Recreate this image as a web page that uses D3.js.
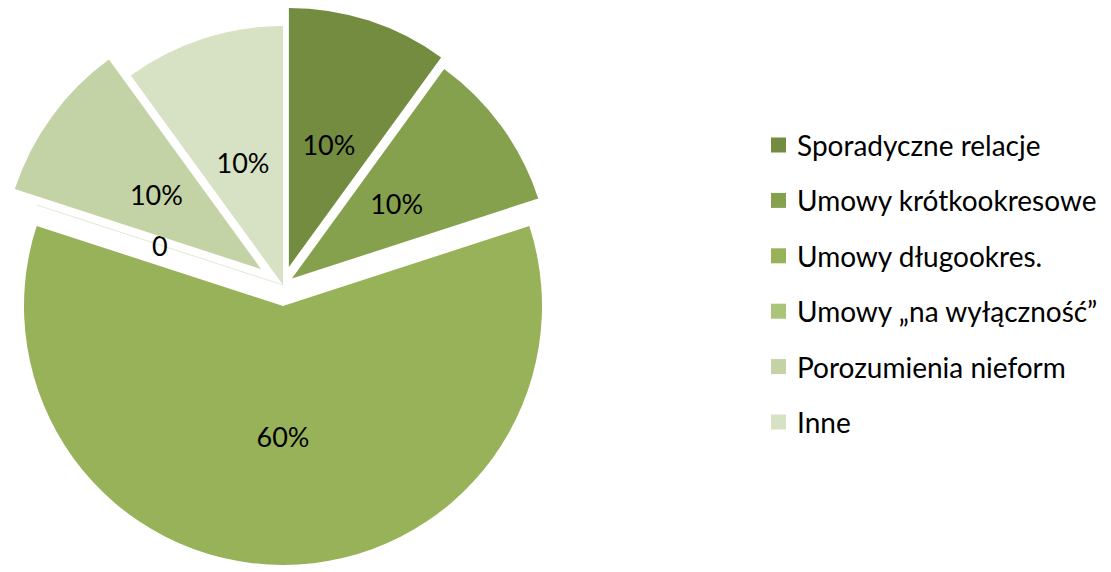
<!DOCTYPE html>
<html>
<head>
<meta charset="utf-8">
<script src="https://cdn.jsdelivr.net/npm/d3@7"></script>
<style>
  html, body { margin: 0; padding: 0; background: #ffffff; }
  svg { display: block; }
  text { font-family: Lato, "Open Sans", sans-serif; }
</style>
</head>
<body>
<svg id="chart" width="1111" height="572"></svg>
<script>
const categories = ["Sporadyczne relacje", "Umowy krótkookresowe", "Umowy długookres.", "Umowy \u201ena wyłączność\u201d", "Porozumienia nieform", "Inne"];
const values = [10, 10, 60, 0, 10, 10];
const valueLabels = ["10%", "10%", "60%", "0", "10%", "10%"];
const colors = ["#738c40", "#86a14e", "#97b258", "#aac478", "#c3d3a5", "#d7e1c4"];
const explode = [19, 11, 21, 0, 27, 0];

const W = 1111, H = 572;
const cx = 283, cy = 285, R = 259;
const svg = d3.select("#chart");

const data = categories.map((c, i) => ({ name: c, value: values[i], label: valueLabels[i], color: colors[i], ex: explode[i] }));
const pie = d3.pie().sort(null).value(d => d.value);
const arcs = pie(data);
const arc = d3.arc().innerRadius(0).outerRadius(R);
const labelArc = d3.arc().innerRadius(0).outerRadius(R);

const g = svg.append("g").attr("transform", `translate(${cx},${cy})`);

const slice = g.selectAll("g.slice").data(arcs).join("g")
  .attr("class", "slice")
  .attr("transform", d => {
    const a = (d.startAngle + d.endAngle) / 2;
    return `translate(${d.data.ex * Math.sin(a)},${-d.data.ex * Math.cos(a)})`;
  });

slice.each(function(d) {
  const s = d3.select(this);
  if (d.endAngle - d.startAngle > 0) {
    s.append("path").attr("d", arc(d)).attr("fill", d.data.color);
  } else {
    const a = d.startAngle;
    s.append("line")
      .attr("x1", 0).attr("y1", 0)
      .attr("x2", R * Math.sin(a)).attr("y2", -R * Math.cos(a))
      .attr("stroke", "#e3e9d6").attr("stroke-width", 1);
  }
});

slice.append("text")
  .attr("transform", d => {
    let c;
    if (d.endAngle - d.startAngle > 0) c = labelArc.centroid(d);
    else { const a = d.startAngle; c = [R * 0.5 * Math.sin(a), -R * 0.5 * Math.cos(a)]; }
    return `translate(${c[0]},${c[1] + 1})`;
  })
  .attr("text-anchor", "middle")
  .attr("dominant-baseline", "central")
  .attr("font-size", 27)
  .attr("fill", "#000")
  .text(d => d.data.label);

// legend
const legend = svg.append("g").attr("transform", "translate(771,145)");
const rowH = 55.4;
const items = legend.selectAll("g").data(data).join("g")
  .attr("transform", (d, i) => `translate(0,${i * rowH})`);
items.append("rect").attr("x", 0).attr("y", -7.5).attr("width", 15).attr("height", 15).attr("fill", d => d.color);
items.append("text").attr("x", 26).attr("y", 0)
  .attr("dominant-baseline", "central")
  .attr("font-size", 28)
  .attr("fill", "#000")
  .text(d => d.name);
</script>
</body>
</html>
